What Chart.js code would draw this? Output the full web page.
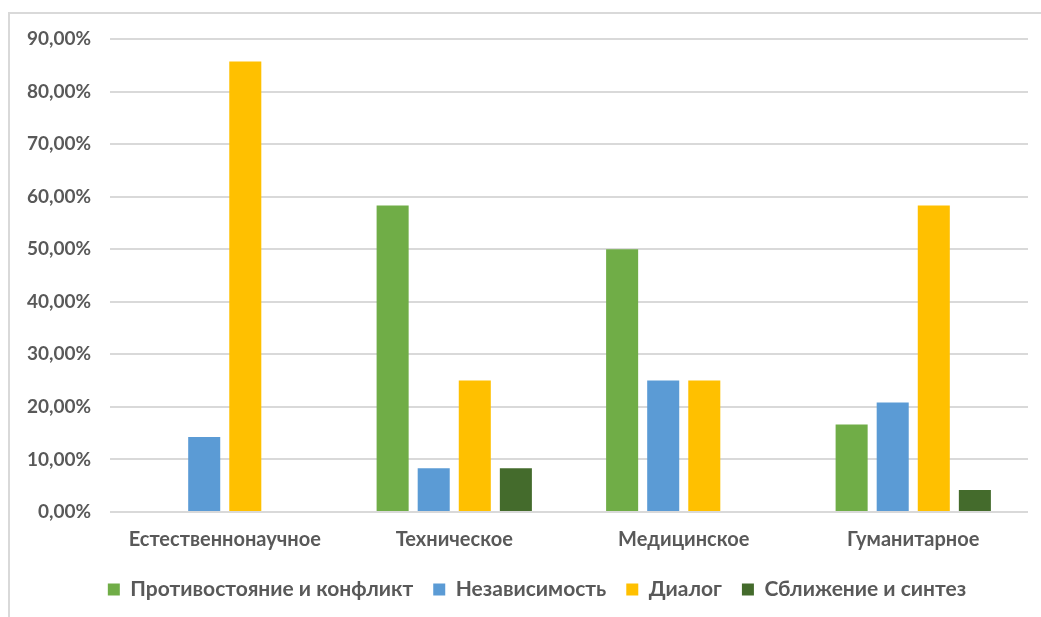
<!DOCTYPE html>
<html>
<head>
<meta charset="utf-8">
<script src="https://cdn.jsdelivr.net/npm/chart.js@4.4.1/dist/chart.umd.min.js"></script>
<style>
  html, body { margin: 0; padding: 0; background: #fff; }
  #wrap { position: relative; width: 1041px; height: 617px; overflow: hidden; }
  #frame { position: absolute; left: 8px; top: 12px; width: 1100px; height: 700px; border: 2px solid #d9d9d9; box-sizing: border-box; }
  #statsChart { position: absolute; left: 0; top: 0; }
</style>
</head>
<body>
<div id="wrap">
  <div id="frame"></div>
  <canvas id="statsChart" width="1041" height="617"></canvas>
</div>
<script>
const categories = ['Естественнонаучное', 'Техническое', 'Медицинское', 'Гуманитарное'];
const seriesNames = ['Противостояние и конфликт', 'Независимость', 'Диалог', 'Сближение и синтез'];
const conflict = [0, 58.33, 50, 16.67];
const independence = [14.29, 8.33, 25, 20.83];
const dialogue = [85.71, 25, 25, 58.33];
const synthesis = [0, 8.33, 0, 4.17];
const yTicks = [0, 10, 20, 30, 40, 50, 60, 70, 80, 90];

const colors = ['#70ad47', '#5b9bd5', '#ffc000', '#446b2c'];
const fontFamily = "Lato, 'Open Sans', sans-serif";

function makeSet(i, values) {
    return {
        label: seriesNames[i],
        data: values,
        backgroundColor: colors[i],
        borderWidth: 0,
        categoryPercentage: 0.716,
        barPercentage: 0.78
    };
}

// Excel centres the legend a bit to the right of the canvas middle
const legendShift = {
    id: 'legendShift',
    afterLayout: function(chart) {
        chart.legend.left += 23;
        chart.legend.right += 23;
    }
};

const ctx = document.getElementById('statsChart').getContext('2d');
const myChart = new Chart(ctx, {
    type: 'bar',
    data: {
        labels: categories,
        datasets: [
            makeSet(0, conflict),
            makeSet(1, independence),
            makeSet(2, dialogue),
            makeSet(3, synthesis)
        ]
    },
    plugins: [legendShift],
    options: {
        responsive: false,
        animation: false,
        layout: { padding: { left: 0, right: 13, top: 39, bottom: 7 } },
        plugins: {
            tooltip: { enabled: false },
            legend: {
                position: 'bottom',
                labels: {
                    boxWidth: 12,
                    boxHeight: 12,
                    padding: 20,
                    color: '#595959',
                    font: { family: fontFamily, size: 21, weight: 'bold' }
                }
            }
        },
        scales: {
            x: {
                grid: { display: false, drawTicks: false },
                border: { display: false },
                ticks: {
                    color: '#595959',
                    padding: 16,
                    font: { family: fontFamily, size: 20, weight: 'bold' }
                },
                afterFit: function(scale) { scale.height = 47; }
            },
            y: {
                min: 0,
                max: 90,
                afterBuildTicks: function(scale) {
                    scale.ticks = yTicks.map(v => ({ value: v }));
                },
                grid: { color: '#d9d9d9', lineWidth: 2, drawTicks: false },
                border: { display: false },
                ticks: {
                    color: '#595959',
                    padding: 19,
                    font: { family: fontFamily, size: 19, weight: 'bold' },
                    callback: function(v) { return v.toFixed(2).replace('.', ',') + '%'; }
                },
                afterFit: function(scale) { scale.width = 110; }
            }
        }
    }
});
</script>
</body>
</html>
